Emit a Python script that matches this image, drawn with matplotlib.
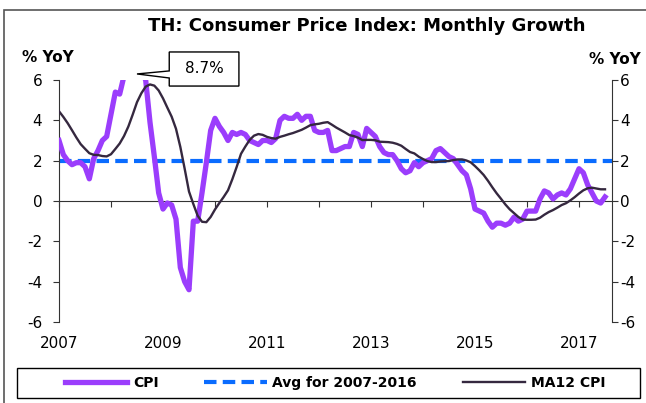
import numpy as np
import matplotlib.pyplot as plt
from matplotlib.patches import Polygon, Rectangle
from matplotlib.transforms import blended_transform_factory

plt.rcParams['font.family'] = ['DejaVu Sans']
plt.rcParams['axes.unicode_minus'] = False

# Monthly data, Jan 2007 - Jul 2017 (% YoY)
cpi = [
    3.0, 2.3, 2.0, 1.8, 1.9, 1.9, 1.7, 1.1, 2.1, 2.5, 3.0, 3.2,        # 2007
    4.3, 5.4, 5.3, 6.2, 7.6, 8.9, 9.2, 6.4, 6.0, 3.9, 2.2, 0.4,        # 2008
    -0.4, -0.1, -0.2, -0.9, -3.3, -4.0, -4.4, -1.0, -1.0, 0.4, 1.9, 3.5,  # 2009
    4.1, 3.7, 3.4, 3.0, 3.4, 3.3, 3.4, 3.3, 3.0, 2.9, 2.8, 3.0,        # 2010
    3.0, 2.9, 3.1, 4.0, 4.2, 4.1, 4.1, 4.3, 4.0, 4.2, 4.2, 3.5,        # 2011
    3.4, 3.4, 3.5, 2.5, 2.5, 2.6, 2.7, 2.7, 3.4, 3.3, 2.7, 3.6,        # 2012
    3.4, 3.2, 2.7, 2.4, 2.3, 2.3, 2.0, 1.6, 1.4, 1.5, 1.9, 1.7,        # 2013
    1.9, 2.0, 2.1, 2.5, 2.6, 2.4, 2.2, 2.1, 1.8, 1.5, 1.3, 0.6,        # 2014
    -0.4, -0.5, -0.6, -1.0, -1.3, -1.1, -1.1, -1.2, -1.1, -0.8, -1.0, -0.9,  # 2015
    -0.5, -0.5, -0.5, 0.1, 0.5, 0.4, 0.1, 0.3, 0.4, 0.3, 0.6, 1.1,     # 2016
    1.6, 1.4, 0.8, 0.4, 0.0, -0.1, 0.2,                                # 2017
]
ma12_cpi = [
    4.45, 4.17, 3.86, 3.51, 3.15, 2.82, 2.59, 2.37, 2.29, 2.28, 2.23, 2.21,
    2.32, 2.58, 2.85, 3.22, 3.69, 4.28, 4.90, 5.34, 5.67, 5.78, 5.72, 5.48,
    5.09, 4.63, 4.18, 3.58, 2.68, 1.60, 0.47, -0.15, -0.73, -1.03, -1.05, -0.79,
    -0.42, -0.10, 0.20, 0.53, 1.08, 1.69, 2.34, 2.70, 3.03, 3.24, 3.32, 3.28,
    3.18, 3.12, 3.09, 3.18, 3.24, 3.31, 3.37, 3.45, 3.53, 3.64, 3.76, 3.80,
    3.83, 3.88, 3.91, 3.78, 3.64, 3.52, 3.40, 3.27, 3.22, 3.14, 3.02, 3.03,
    3.03, 3.01, 2.94, 2.93, 2.92, 2.89, 2.83, 2.74, 2.58, 2.43, 2.36, 2.20,
    2.08, 1.98, 1.93, 1.93, 1.96, 1.97, 1.98, 2.03, 2.06, 2.06, 2.01, 1.92,
    1.73, 1.52, 1.29, 1.00, 0.68, 0.38, 0.11, -0.17, -0.41, -0.60, -0.79, -0.92,
    -0.93, -0.93, -0.92, -0.83, -0.68, -0.55, -0.45, -0.33, -0.20, -0.11, 0.03, 0.19,
    0.37, 0.53, 0.63, 0.66, 0.62, 0.58, 0.58,
]
avg_2007_2016 = 1.96
peak_label = '8.7%'
year_labels = [2007, 2009, 2011, 2013, 2015, 2017]
y_ticks = [-6, -4, -2, 0, 2, 4, 6]

months = 2007 + np.arange(len(cpi)) / 12.0

fig = plt.figure(figsize=(6.46, 4.03), dpi=100)
ax = fig.add_axes([59 / 646, 1 - 322 / 403, 553 / 646, 242 / 403])

ax.plot(months, cpi, color='#9b3dfc', lw=3.8, solid_joinstyle='round', label='CPI', zorder=3)
ax.axhline(avg_2007_2016, color='#0a6cff', lw=3.0, dashes=(3, 1.5),
           label='Avg for 2007-2016', zorder=2)
ax.plot(months, ma12_cpi, color='#35283f', lw=1.7, label='MA12 CPI', zorder=4)

ax.set_xlim(2007, 2007 + 553 / 52)
ax.set_ylim(-6, 6)

# x axis crosses at zero, no top/bottom frame
for s in ['top', 'right']:
    ax.spines[s].set_visible(False)
ax.spines['bottom'].set_position(('data', 0))
ax.spines['bottom'].set_color('#333333')
ax.spines['left'].set_color('#333333')
ax.set_xticks(range(2007, 2018))
ax.set_xticklabels([])
ax.tick_params(axis='x', direction='out', length=4, color='#333333')
ax.set_yticks(y_ticks)
ax.tick_params(axis='y', direction='out', length=4, pad=8, labelsize=11, color='#333333')

tr = blended_transform_factory(ax.transData, ax.transAxes)
for yr in year_labels:
    ax.text(yr, -0.087, str(yr), transform=tr, ha='center', va='center', fontsize=11)

ax2 = ax.twinx()
ax2.set_ylim(-6, 6)
ax2.set_yticks(y_ticks)
for s in ['top', 'bottom', 'left']:
    ax2.spines[s].set_visible(False)
ax2.spines['right'].set_color('#333333')
ax2.tick_params(axis='y', direction='out', length=4, pad=2, labelsize=11, color='#333333')

# callout for the clipped 2008 peak
tip_x, tip_y = 2008.5, 6.3
bx0, bx1, by0, by1 = 2009.12, 2010.46, 5.70, 7.39
callout = Polygon([(tip_x, tip_y), (bx0, 6.45), (bx0, by1), (bx1, by1),
                   (bx1, by0), (bx0, by0), (bx0, 6.1)],
                  closed=True, fc='white', ec='black', lw=1.0, clip_on=False, zorder=6)
ax.add_patch(callout)
ax.text((bx0 + bx1) / 2, (by0 + by1) / 2 + 0.05, peak_label, ha='center', va='center',
        fontsize=11, zorder=7)

fig.text(367 / 646, 1 - 26 / 403, 'TH: Consumer Price Index: Monthly Growth',
         ha='center', va='center', fontsize=13, fontweight='bold')
fig.text(48 / 646, 1 - 58 / 403, '% YoY', ha='center', va='center', fontsize=11, fontweight='bold')
fig.text(615 / 646, 1 - 59 / 403, '% YoY', ha='center', va='center', fontsize=11, fontweight='bold')

# outer frame (only top and left edges visible) and legend frame
fig.patches.append(Rectangle((4 / 646, -0.05), 1.1, 1.05 - 10 / 403, transform=fig.transFigure,
                             fill=False, ec='#555555', lw=1.2))
fig.patches.append(Rectangle((17 / 646, 1 - 398 / 403), 623 / 646, 30 / 403,
                             transform=fig.transFigure, fill=False, ec='black', lw=1.0))

handles, labels = ax.get_legend_handles_labels()
fig.legend(handles, labels, loc='center', bbox_to_anchor=(335 / 646, 1 - 383 / 403),
           ncol=3, frameon=False, handlelength=4.5, handletextpad=0.4,
           columnspacing=3.3, prop={'weight': 'bold', 'size': 10})

fig.savefig('out.png', dpi=100)
